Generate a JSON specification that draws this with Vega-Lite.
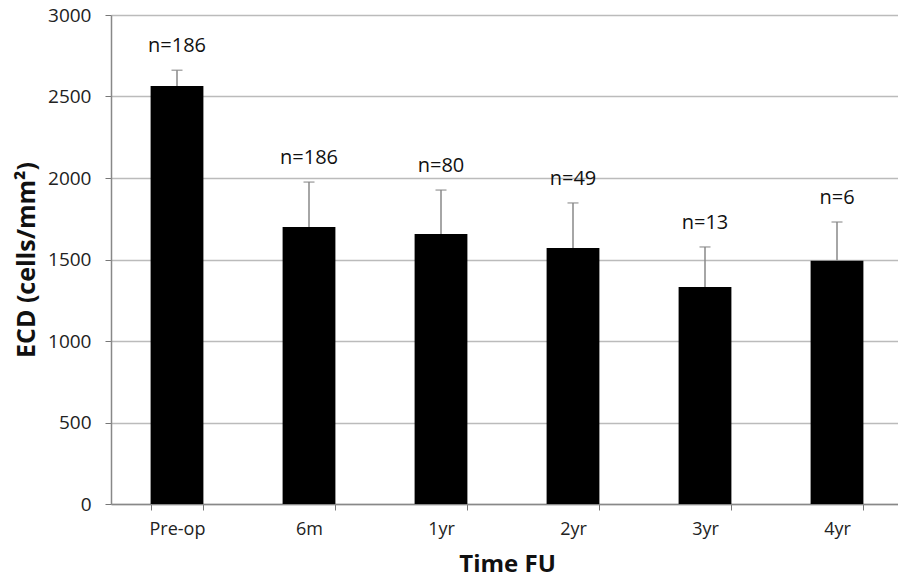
{
  "$schema": "https://vega.github.io/schema/vega-lite/v6.json",
  "autosize": {"type": "none"},
  "padding": {"left": 111, "top": 15, "right": 0, "bottom": 79},
  "width": 792,
  "height": 489,
  "background": "white",
  "config": {
    "view": {"stroke": null},
    "font": "Open Sans"
  },
  "data": {
    "values": [
      {"time": "Pre-op", "ecd": 2564, "upper": 2661, "n": "n=186"},
      {"time": "6m", "ecd": 1699, "upper": 1975, "n": "n=186"},
      {"time": "1yr", "ecd": 1656, "upper": 1926, "n": "n=80"},
      {"time": "2yr", "ecd": 1571, "upper": 1847, "n": "n=49"},
      {"time": "3yr", "ecd": 1331, "upper": 1577, "n": "n=13"},
      {"time": "4yr", "ecd": 1493, "upper": 1730, "n": "n=6"}
    ]
  },
  "encoding": {
    "x": {
      "field": "time",
      "type": "nominal",
      "sort": null,
      "scale": {"paddingInner": 0.6, "paddingOuter": 0.3},
      "axis": {
        "title": "Time FU",
        "titleFont": "Open Sans",
        "titleFontSize": 24,
        "titleFontWeight": "bold",
        "titleColor": "#111",
        "titlePadding": 14,
        "labelAngle": 0,
        "labelFontSize": 18,
        "labelColor": "#222",
        "labelPadding": 10,
        "tickBand": "extent",
        "tickSize": 6,
        "tickColor": "#777",
        "domainColor": "#888",
        "domainWidth": 1.5,
        "grid": false
      }
    }
  },
  "layer": [
    {
      "mark": {"type": "bar", "color": "black"},
      "encoding": {
        "y": {
          "field": "ecd",
          "type": "quantitative",
          "scale": {"domain": [0, 3000], "nice": false},
          "axis": {
            "title": "ECD (cells/mm²)",
            "titleFont": "Open Sans",
            "titleFontSize": 25,
            "titleFontWeight": "bold",
            "titleColor": "#111",
            "titlePadding": 8,
            "values": [0, 500, 1000, 1500, 2000, 2500, 3000],
            "format": "d",
            "labelFontSize": 19,
            "labelColor": "#222",
            "labelPadding": 14,
            "tickSize": 6,
            "tickColor": "#777",
            "domainColor": "#888",
            "domainWidth": 1.5,
            "grid": true,
            "gridColor": "#bbb",
            "gridWidth": 1.5
          }
        }
      }
    },
    {
      "mark": {"type": "rule", "color": "#888", "strokeWidth": 1.5},
      "encoding": {
        "y": {"field": "ecd", "type": "quantitative"},
        "y2": {"field": "upper"}
      }
    },
    {
      "mark": {"type": "tick", "color": "#888", "orient": "horizontal", "size": 11, "thickness": 1.5},
      "encoding": {
        "y": {"field": "upper", "type": "quantitative"}
      }
    },
    {
      "mark": {"type": "text", "fontSize": 20, "color": "#111", "dy": -24, "baseline": "middle"},
      "encoding": {
        "y": {"field": "upper", "type": "quantitative"},
        "text": {"field": "n"}
      }
    }
  ]
}
